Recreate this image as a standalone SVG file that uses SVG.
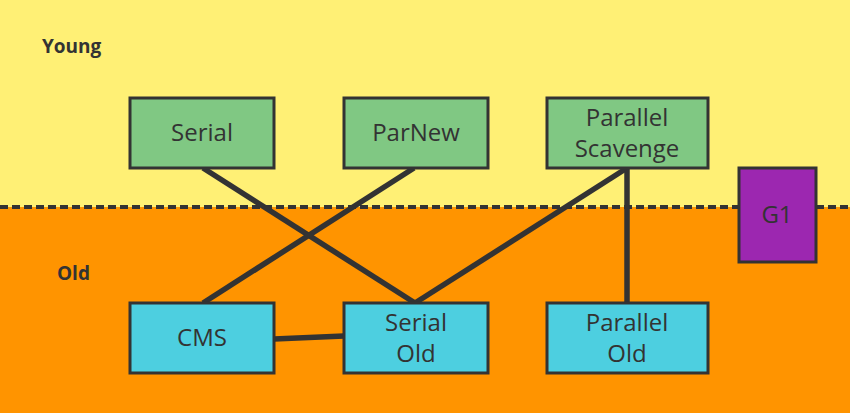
<svg xmlns="http://www.w3.org/2000/svg" width="850" height="413" viewBox="0 0 850 413">
<style>
.box{stroke:#333;stroke-width:3}
.young{fill:#80c883}
.old{fill:#4dcfe0}
.t{font-family:"Open Sans","Noto Sans",sans-serif;font-size:24px;fill:#333;text-anchor:middle}
.lbl{font-family:"Open Sans","Noto Sans",sans-serif;font-size:19px;font-weight:bold;fill:#333}
.c{stroke:#333;stroke-width:5.5;fill:none}
</style>
<rect x="0" y="0" width="850" height="207" fill="#fff075"/>
<rect x="0" y="207" width="850" height="206" fill="#ff9400"/>
<line x1="0" y1="207" x2="850" y2="207" stroke="#333" stroke-width="4" stroke-dasharray="8 4"/>
<text class="lbl" x="42" y="53">Young</text>
<text class="lbl" x="57" y="280">Old</text>
<g id="connectors">
<line class="c" x1="203" y1="168" x2="415" y2="303"/>
<line class="c" x1="414" y1="168" x2="203" y2="303"/>
<line class="c" x1="627" y1="168" x2="415" y2="303"/>
<line class="c" x1="627" y1="168" x2="627" y2="303"/>
<line class="c" x1="274" y1="339" x2="344" y2="336"/>
</g>
<g id="serial"><rect class="box young" x="130" y="98" width="144" height="70"/><text class="t" x="202" y="141">Serial</text></g>
<g id="parnew"><rect class="box young" x="344" y="98" width="144" height="70"/><text class="t" x="416" y="141">ParNew</text></g>
<g id="parallel-scavenge"><rect class="box young" x="547" y="98" width="161" height="70"/><text class="t" x="627" y="126">Parallel</text><text class="t" x="627" y="157">Scavenge</text></g>
<g id="g1"><rect class="box" fill="#9c27b0" x="739" y="168" width="77" height="94"/><text class="t" x="777" y="223">G1</text></g>
<g id="cms"><rect class="box old" x="130" y="303" width="144" height="70"/><text class="t" x="202" y="346">CMS</text></g>
<g id="serial-old"><rect class="box old" x="344" y="303" width="144" height="70"/><text class="t" x="416" y="331">Serial</text><text class="t" x="416" y="362">Old</text></g>
<g id="parallel-old"><rect class="box old" x="547" y="303" width="161" height="70"/><text class="t" x="627" y="331">Parallel</text><text class="t" x="627" y="362">Old</text></g>
</svg>
